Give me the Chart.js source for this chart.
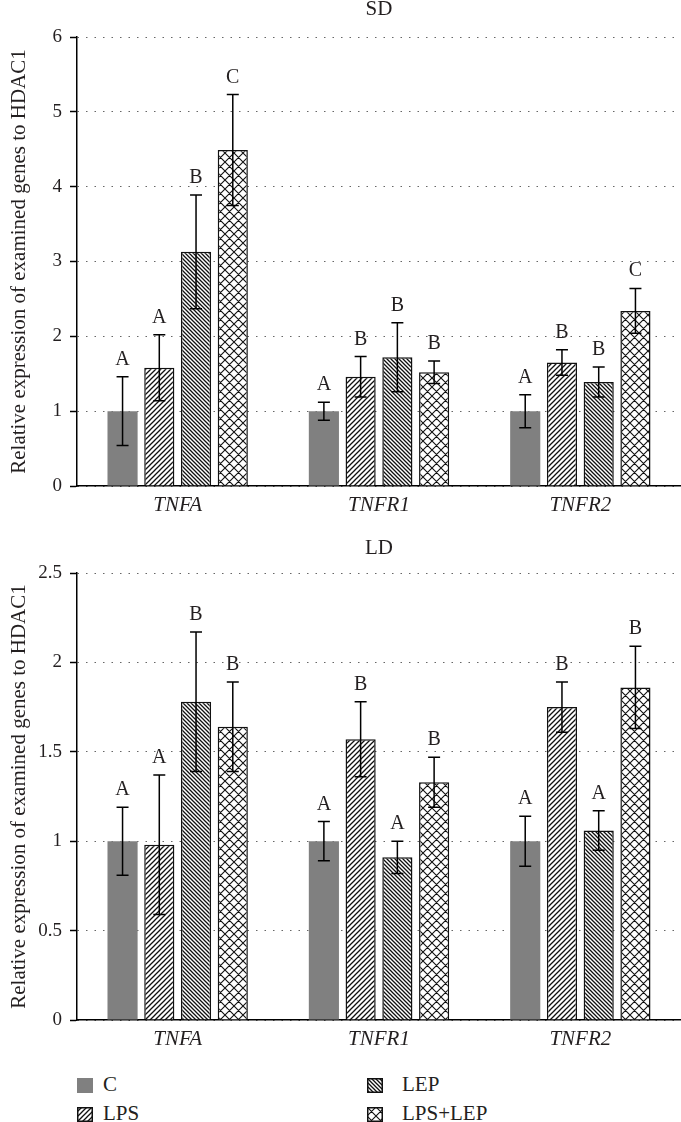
<!DOCTYPE html>
<html>
<head>
<meta charset="utf-8">
<script src="https://cdn.jsdelivr.net/npm/chart.js@4.4.0/dist/chart.umd.min.js"></script>
<style>
  body { margin: 0; background: #fff; width: 681px; height: 1122px; overflow: hidden; position: relative; font-family: "Liberation Serif", serif; color: #231f20; }
  canvas.chart { position: absolute; left: 0; }
  #sdChart { top: 0; }
  #ldChart { top: 520px; }
  .swatch { position: absolute; }
  .legend-text { position: absolute; font-size: 21px; line-height: 21px; white-space: nowrap; }
</style>
</head>
<body>
<canvas id="sdChart" class="chart" width="681" height="520"></canvas>
<canvas id="ldChart" class="chart" width="681" height="534"></canvas>

<canvas class="swatch" id="swC" width="16" height="15" style="left:77px;top:1078px"></canvas>
<div class="legend-text" style="left:103px;top:1074px">C</div>
<canvas class="swatch" id="swLPS" width="16" height="15" style="left:77px;top:1107px"></canvas>
<div class="legend-text" style="left:103px;top:1103px">LPS</div>
<canvas class="swatch" id="swLEP" width="16" height="15" style="left:367px;top:1078px"></canvas>
<div class="legend-text" style="left:402px;top:1074px">LEP</div>
<canvas class="swatch" id="swLPSLEP" width="16" height="15" style="left:367px;top:1107px"></canvas>
<div class="legend-text" style="left:402px;top:1103px">LPS+LEP</div>

<script>
// Data
const genes = ['TNFA', 'TNFR1', 'TNFR2'];
const groups = ['C', 'LPS', 'LEP', 'LPS+LEP'];

// SD panel
const sdC = [1.0, 1.0, 1.0];
const sdCErr = [0.46, 0.12, 0.22];
const sdLPS = [1.58, 1.46, 1.65];
const sdLPSErr = [0.44, 0.27, 0.17];
const sdLEP = [3.13, 1.72, 1.39];
const sdLEPErr = [0.76, 0.46, 0.20];
const sdLPSLEP = [4.49, 1.52, 2.34];
const sdLPSLEPErr = [0.74, 0.15, 0.30];
const sdLetters = [['A', 'A', 'A'], ['A', 'B', 'B'], ['B', 'B', 'B'], ['C', 'B', 'C']];
const sdTicks = [0, 1, 2, 3, 4, 5, 6];

// LD panel
const ldC = [1.0, 1.0, 1.0];
const ldCErr = [0.19, 0.11, 0.14];
const ldLPS = [0.98, 1.57, 1.75];
const ldLPSErr = [0.39, 0.21, 0.14];
const ldLEP = [1.78, 0.91, 1.06];
const ldLEPErr = [0.39, 0.09, 0.11];
const ldLPSLEP = [1.64, 1.33, 1.86];
const ldLPSLEPErr = [0.25, 0.14, 0.23];
const ldLetters = [['A', 'A', 'A'], ['A', 'B', 'B'], ['B', 'A', 'A'], ['B', 'B', 'B']];
const ldTicks = [0, 0.5, 1, 1.5, 2, 2.5];

const yTitle = 'Relative expression of examined genes to HDAC1';
const serif = '"Liberation Serif", "Times New Roman", serif';
const ink = '#231f20';

// Hatch patterns
function makePattern(kind) {
    const size = kind === 'cross' ? 9 : (kind === 'back' ? 4 : 5);
    const c = document.createElement('canvas');
    c.width = size;
    c.height = size;
    const g = c.getContext('2d');
    g.fillStyle = '#fff';
    g.fillRect(0, 0, size, size);
    g.strokeStyle = '#111';
    g.lineWidth = kind === 'cross' ? 1.1 : 1.3;
    g.beginPath();
    if (kind === 'fwd' || kind === 'cross') {
        g.moveTo(-1, size + 1); g.lineTo(size + 1, -1);
        g.moveTo(-1, 1); g.lineTo(1, -1);
        g.moveTo(size - 1, size + 1); g.lineTo(size + 1, size - 1);
    }
    if (kind === 'back' || kind === 'cross') {
        g.moveTo(-1, -1); g.lineTo(size + 1, size + 1);
        g.moveTo(size - 1, -1); g.lineTo(size + 1, 1);
        g.moveTo(-1, size - 1); g.lineTo(1, size + 1);
    }
    g.stroke();
    return g.createPattern(c, 'repeat');
}

const fills = ['#808080', makePattern('fwd'), makePattern('back'), makePattern('cross')];

// Error bars + letters
const errorBarPlugin = {
    id: 'errorBars',
    afterDatasetsDraw(chart) {
        const ctx = chart.ctx;
        const y = chart.scales.y;
        chart.data.datasets.forEach((ds, i) => {
            const meta = chart.getDatasetMeta(i);
            meta.data.forEach((bar, j) => {
                const v = ds.data[j];
                const e = ds.errors[j];
                const top = y.getPixelForValue(v + e);
                const bot = y.getPixelForValue(v - e);
                ctx.save();
                ctx.strokeStyle = '#000';
                ctx.lineWidth = 1.5;
                ctx.beginPath();
                ctx.moveTo(bar.x, top); ctx.lineTo(bar.x, bot);
                ctx.moveTo(bar.x - 6, top); ctx.lineTo(bar.x + 6, top);
                ctx.moveTo(bar.x - 6, bot); ctx.lineTo(bar.x + 6, bot);
                ctx.stroke();
                ctx.fillStyle = ink;
                ctx.font = '20px ' + serif;
                ctx.textAlign = 'center';
                ctx.textBaseline = 'alphabetic';
                ctx.fillText(ds.letters[j], bar.x, top - 12);
                ctx.restore();
            });
        });
    }
};

function buildChart(id, title, titlePad, means, errs, letters, ticks) {
    const datasets = groups.map((name, i) => ({
        label: name,
        data: means[i],
        errors: errs[i],
        letters: letters[i],
        backgroundColor: fills[i],
        borderColor: '#111',
        borderWidth: i === 0 ? 0 : 1.5,
        categoryPercentage: 0.73,
        barPercentage: 0.82
    }));

    return new Chart(document.getElementById(id), {
        type: 'bar',
        data: { labels: genes, datasets: datasets },
        options: {
            responsive: false,
            animation: false,
            layout: { padding: 0 },
            plugins: {
                legend: { display: false },
                tooltip: { enabled: false },
                title: {
                    display: true,
                    text: title,
                    fullSize: false,
                    color: ink,
                    font: { family: serif, size: 21, weight: 'normal', lineHeight: 1 },
                    padding: titlePad
                }
            },
            scales: {
                x: {
                    afterFit: s => { s.height = 34; },
                    grid: { display: false, drawTicks: false },
                    border: { color: '#000', width: 1.5 },
                    ticks: {
                        color: ink,
                        padding: 7,
                        font: { family: serif, size: 21, style: 'italic' }
                    }
                },
                y: {
                    min: ticks[0],
                    max: ticks[ticks.length - 1],
                    afterFit: s => { s.width = 77; },
                    afterBuildTicks: s => { s.ticks = ticks.map(v => ({ value: v })); },
                    grid: {
                        color: '#666',
                        lineWidth: 1,
                        tickLength: 7,
                        tickColor: '#000',
                        tickWidth: 1.5,
                        tickBorderDash: []
                    },
                    border: { color: '#000', width: 1.5, dash: [1.5, 7] },
                    ticks: {
                        color: ink,
                        padding: 8,
                        font: { family: serif, size: 19 },
                        callback: v => String(v)
                    },
                    title: {
                        display: true,
                        text: yTitle,
                        color: ink,
                        padding: { top: 7, bottom: 0 },
                        font: { family: serif, size: 21 }
                    }
                }
            }
        },
        plugins: [errorBarPlugin]
    });
}

buildChart('sdChart', 'SD', { top: -1, bottom: 17 },
    [sdC, sdLPS, sdLEP, sdLPSLEP],
    [sdCErr, sdLPSErr, sdLEPErr, sdLPSLEPErr],
    sdLetters, sdTicks);

buildChart('ldChart', 'LD', { top: 18, bottom: 14 },
    [ldC, ldLPS, ldLEP, ldLPSLEP],
    [ldCErr, ldLPSErr, ldLEPErr, ldLPSLEPErr],
    ldLetters, ldTicks);

// Legend swatches
['swC', 'swLPS', 'swLEP', 'swLPSLEP'].forEach((id, i) => {
    const cv = document.getElementById(id);
    const g = cv.getContext('2d');
    g.fillStyle = fills[i];
    g.fillRect(0, 0, cv.width, cv.height);
    if (i > 0) {
        g.strokeStyle = '#111';
        g.lineWidth = 1.5;
        g.strokeRect(0.75, 0.75, cv.width - 1.5, cv.height - 1.5);
    }
});
</script>
</body>
</html>
